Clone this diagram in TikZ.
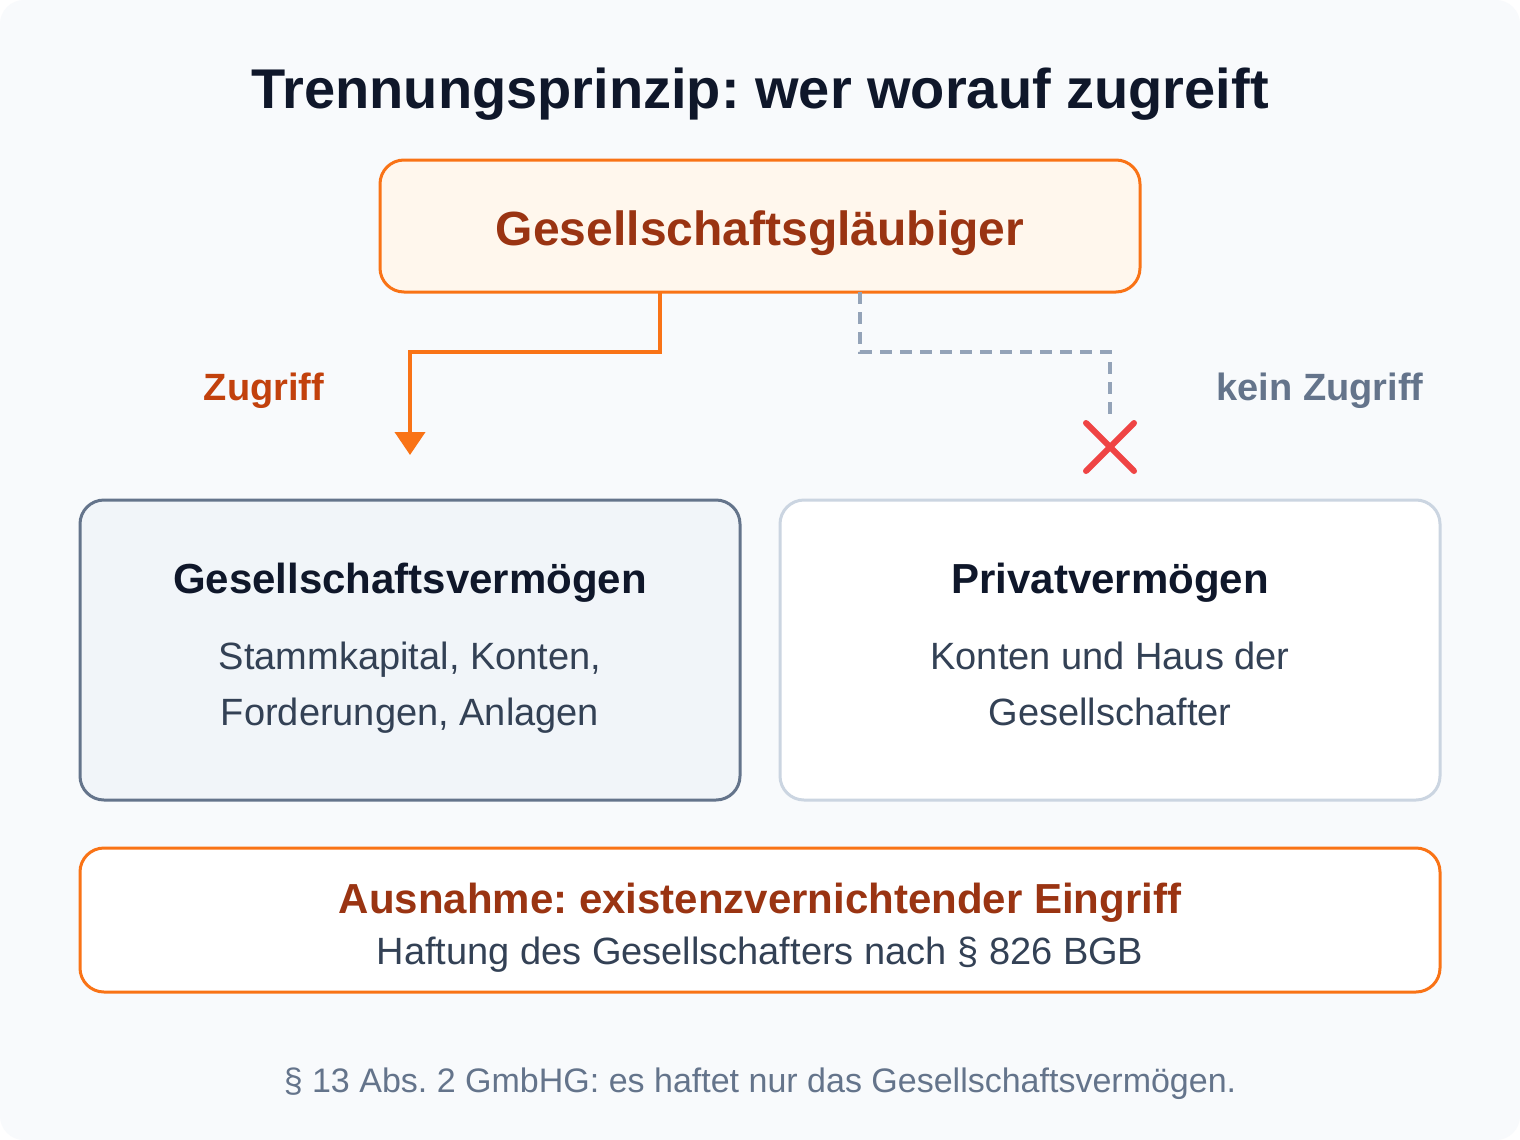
\documentclass[tikz,border=0pt]{standalone}
\usepackage{fontspec}
\setmainfont{Liberation Sans}
\usetikzlibrary{arrows.meta}
\frenchspacing
\definecolor{bgcol}{HTML}{F8FAFC}
\definecolor{ink}{HTML}{0F172A}
\definecolor{body}{HTML}{334155}
\definecolor{slate}{HTML}{64748B}
\definecolor{lightslate}{HTML}{CBD5E1}
\definecolor{dashgray}{HTML}{94A3B8}
\definecolor{orange}{HTML}{F97316}
\definecolor{orangefill}{HTML}{FFF7ED}
\definecolor{brown}{HTML}{9A3412}
\definecolor{rust}{HTML}{C2410C}
\definecolor{crossred}{HTML}{EF4444}
\definecolor{boxfill}{HTML}{F1F5F9}
\begin{document}
\begin{tikzpicture}[x=0.5pt,y=-0.5pt,inner sep=0pt,outer sep=0pt,
assetbox/.style={draw,rectangle,rounded corners=12pt,line width=1.5pt,minimum width=330pt,minimum height=150pt},
notebox/.style={draw=orange,fill=white,rectangle,rounded corners=12pt,line width=1.5pt,minimum width=680pt,minimum height=72pt},
access/.style={draw=orange,line width=2pt,-{Triangle[width=15pt,length=11.5pt]}},
noaccess/.style={draw=dashgray,line width=2pt,dash pattern=on 6pt off 4pt},
xmark/.style={draw=crossred,line width=3pt,line cap=round}]

\useasboundingbox (0,0) rectangle (1520,1140);
\fill[white] (0,0) rectangle (1520,1140);
\fill[bgcol,rounded corners=12pt] (0,0) rectangle (1520,1140);

\draw (760,108) node[anchor=base,font=\bfseries\fontsize{28pt}{34pt}\selectfont,text=ink] (title) {Trennungsprinzip: wer worauf zugreift};

\draw (760,226) node[draw=orange,fill=orangefill,rectangle,rounded corners=12pt,line width=1.5pt,minimum width=380pt,minimum height=66pt] (glaeub) {};
\draw (760,245) node[anchor=base,font=\bfseries\fontsize{24pt}{29pt}\selectfont,text=brown] (glaeubtext) {Gesellschaftsgläubiger};

\draw (410,650) node[assetbox,draw=slate,fill=boxfill] (gesv) {};
\draw (1110,650) node[assetbox,draw=lightslate,fill=white] (privv) {};
\draw (760,920) node[notebox] (ausn) {};

% labels of the two paths
\draw (264,400) node[anchor=base,font=\bfseries\fontsize{19pt}{23pt}\selectfont,text=rust] (zugriff) {Zugriff};
\draw (1320,400) node[anchor=base,font=\bfseries\fontsize{19pt}{23pt}\selectfont,text=slate] (kein) {kein Zugriff};

% box texts
\draw (410,593) node[anchor=base,font=\bfseries\fontsize{21pt}{25pt}\selectfont,text=ink] (gesvtitle) {Gesellschaftsvermögen};
\draw (410,669) node[anchor=base,font=\fontsize{19pt}{23pt}\selectfont,text=body] (gesva) {Stammkapital, Konten,};
\draw (410,725) node[anchor=base,font=\fontsize{19pt}{23pt}\selectfont,text=body] (gesvb) {Forderungen, Anlagen};
\draw (1110,593) node[anchor=base,font=\bfseries\fontsize{21pt}{25pt}\selectfont,text=ink] (privvtitle) {Privatvermögen};
\draw (1110,669) node[anchor=base,font=\fontsize{19pt}{23pt}\selectfont,text=body] (privva) {Konten und Haus der};
\draw (1110,725) node[anchor=base,font=\fontsize{19pt}{23pt}\selectfont,text=body] (privvb) {Gesellschafter};
\draw (760,913) node[anchor=base,font=\bfseries\fontsize{21pt}{25pt}\selectfont,text=brown] (ausntitle) {Ausnahme: existenzvernichtender Eingriff};
\draw (760,964) node[anchor=base,font=\fontsize{19pt}{23pt}\selectfont,text=body] (ausntext) {Haftung des Gesellschafters nach § 826 BGB};
\draw (760,1092) node[anchor=base,font=\fontsize{17pt}{20pt}\selectfont,text=slate] (foot) {§ 13 Abs. 2 GmbHG: es haftet nur das Gesellschaftsvermögen.};

% connectors
\coordinate (hit) at (410,455);
\coordinate (stop) at (1110,418);
\coordinate (cross) at (1110,447);
\draw[access] ([xshift=-50pt]glaeub.south) -- ++(0,60) -| (hit);
\draw[noaccess] ([xshift=50pt]glaeub.south) -- ++(0,60) -| (stop);
\draw[xmark] ([shift={(-12pt,12pt)}]cross) -- ([shift={(12pt,-12pt)}]cross);
\draw[xmark] ([shift={(-12pt,-12pt)}]cross) -- ([shift={(12pt,12pt)}]cross);
\end{tikzpicture}
\end{document}
